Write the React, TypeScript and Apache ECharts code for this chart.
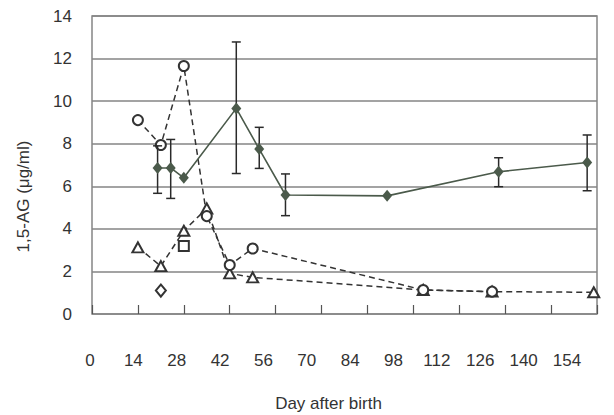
import React, { useEffect, useRef } from "react";
import * as echarts from "echarts";

// Mean (filled diamonds, solid line) with error bars
const meanDays = [20, 24, 28, 44, 51, 59, 90, 124, 151];
const meanValues = [6.86, 6.86, 6.4, 9.66, 7.75, 5.59, 5.55, 6.68, 7.12];
const meanHigh = [7.9, 8.2, null, 12.78, 8.77, 6.58, null, 7.34, 8.41];
const meanLow = [5.67, 5.43, null, 6.6, 6.84, 4.62, null, 5.98, 5.79];

// Individual cases
const circleDays = [14, 21, 28, 35, 42, 49, 101, 122];
const circleValues = [9.11, 7.94, 11.65, 4.6, 2.3, 3.08, 1.13, 1.05];
const triangleDays = [14, 21, 28, 35, 42, 49, 101, 122, 153];
const triangleValues = [3.13, 2.25, 3.91, 4.96, 1.91, 1.72, 1.13, 1.05, 1.02];
const squareDays = [28];
const squareValues = [3.19];
const openDiamondDays = [21];
const openDiamondValues = [1.1];

const xTicks = [0, 14, 28, 42, 56, 70, 84, 98, 112, 126, 140, 154];
const yTicks = [0, 2, 4, 6, 8, 10, 12, 14];

const FONT = "Liberation Sans, Arial, sans-serif";
const TEXT = "#333333";
const GRIDC = "#858585";
const INK = "#333333";
const GREEN = "#4b5a4b";

const zip = (xs: number[], ys: number[]) => xs.map((x, i) => [x, ys[i]]);

export default function App() {
  const ref = useRef<HTMLDivElement>(null);
  useEffect(() => {
    if (!ref.current) return;
    const chart = echarts.init(ref.current, null, { renderer: "svg" });
    const errData = meanDays
      .map((d, i) => [d, meanLow[i], meanHigh[i]])
      .filter((r) => r[1] != null && r[2] != null);

    const dashed = {
      type: "line",
      xAxisIndex: 0,
      yAxisIndex: 0,
      lineStyle: { color: INK, width: 1.5, type: [6, 4] },
      itemStyle: { color: INK, borderColor: INK, borderWidth: 1.5 },
      symbolSize: 10,
      z: 3,
    };

    chart.setOption({
      animation: false,
      backgroundColor: "#ffffff",
      grid: [
        { left: 92, right: 17, top: 16, bottom: 101, show: true, borderColor: GRIDC, borderWidth: 1.5 },
        { left: 90, right: 47, top: 345, height: 1 },
        { left: 92, top: 140, height: 113, width: 1 },
      ],
      xAxis: [
        {
          type: "value",
          gridIndex: 0,
          min: xTicks[0],
          max: xTicks[xTicks.length - 1],
          interval: 14,
          axisLine: { show: false },
          axisTick: { show: true, inside: true, length: 9, lineStyle: { color: "#555", width: 1.2 } },
          axisLabel: { show: false },
          splitLine: { show: false },
        },
        {
          type: "value",
          gridIndex: 1,
          min: xTicks[0],
          max: xTicks[xTicks.length - 1],
          interval: 14,
          axisLine: { show: false },
          axisTick: { show: false },
          splitLine: { show: false },
          axisLabel: { show: true, margin: 6, color: TEXT, fontSize: 17, fontFamily: FONT },
          name: "Day after birth",
          nameLocation: "middle",
          nameGap: 49,
          nameTextStyle: { color: TEXT, fontSize: 17, fontFamily: FONT },
        },
        {
          type: "value",
          gridIndex: 2,
          show: false,
        },
      ],
      yAxis: [
        {
          type: "value",
          gridIndex: 0,
          min: yTicks[0],
          max: yTicks[yTicks.length - 1],
          interval: 2,
          axisLine: { show: false },
          axisTick: { show: false },
          axisLabel: {
            margin: 20,
            color: TEXT,
            fontSize: 17,
            fontFamily: FONT,
            verticalAlign: "middle",
            padding: [10, 0, 0, 0],
          },
          splitLine: { show: true, lineStyle: { color: GRIDC, width: 1.5 } },
        },
        { type: "value", gridIndex: 1, show: false },
        {
          type: "value",
          gridIndex: 2,
          axisLine: { show: false },
          axisTick: { show: false },
          axisLabel: { show: false },
          splitLine: { show: false },
          name: "1,5-AG (μg/ml)",
          nameLocation: "middle",
          nameGap: 60,
          nameTextStyle: { color: TEXT, fontSize: 17, fontFamily: FONT },
        },
      ],
      series: [
        {
          type: "custom",
          xAxisIndex: 0,
          yAxisIndex: 0,
          z: 4,
          data: errData,
          renderItem: (params: any, api: any) => {
            const x = api.value(0);
            const lo = api.coord([x, api.value(1)]);
            const hi = api.coord([x, api.value(2)]);
            const h = 4.5;
            const style = { stroke: "#2a2a2a", lineWidth: 1.5 };
            return {
              type: "group",
              children: [
                { type: "line", shape: { x1: hi[0], y1: hi[1], x2: lo[0], y2: lo[1] }, style },
                { type: "line", shape: { x1: hi[0] - h, y1: hi[1], x2: hi[0] + h, y2: hi[1] }, style },
                { type: "line", shape: { x1: lo[0] - h, y1: lo[1], x2: lo[0] + h, y2: lo[1] }, style },
              ],
            };
          },
        },
        {
          ...dashed,
          name: "triangle",
          data: zip(triangleDays, triangleValues),
          symbol: "emptyTriangle",
          symbolSize: [11, 10],
        },
        {
          ...dashed,
          name: "circle",
          data: zip(circleDays, circleValues),
          symbol: "emptyCircle",
          symbolSize: 10,
        },
        {
          ...dashed,
          name: "square",
          data: zip(squareDays, squareValues),
          symbol: "emptyRect",
          symbolSize: 10,
        },
        {
          ...dashed,
          name: "open diamond",
          data: zip(openDiamondDays, openDiamondValues),
          symbol: "emptyDiamond",
          symbolSize: [10, 12],
        },
        {
          type: "line",
          name: "mean",
          xAxisIndex: 0,
          yAxisIndex: 0,
          data: zip(meanDays, meanValues),
          symbol: "diamond",
          symbolSize: [10, 12],
          lineStyle: { color: GREEN, width: 1.6 },
          itemStyle: { color: GREEN },
          z: 5,
        },
      ],
    });
    return () => chart.dispose();
  }, []);
  return (
    <div
      ref={ref}
      style={{ position: "fixed", left: 0, top: 0, width: 614, height: 415, background: "#fff" }}
    />
  );
}
